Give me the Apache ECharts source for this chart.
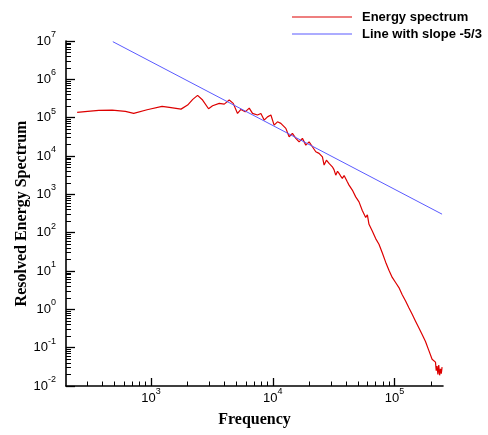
<!DOCTYPE html>
<html>
<head>
<meta charset="utf-8">
<script src="https://cdn.jsdelivr.net/npm/echarts@6/dist/echarts.min.js"></script>
<style>
html,body{margin:0;padding:0;background:#fff;}
#chart{width:488px;height:435px;}
</style>
</head>
<body>
<div id="chart"></div>
<script>
// ---- data ----
const spectrumFreq = [
  247, 301, 372, 479, 615, 720, 927, 1231, 1413, 1762, 1995, 2200, 2410, 2650, 2965, 3200,
  3630, 3990, 4385, 4730, 5130, 5470, 5930, 6400, 6810, 7030, 7480, 7980, 8490, 9040, 9640,
  10250, 10920, 11640, 12000, 12790, 13610, 14490, 15450, 16440, 17500, 18660, 19860, 21140,
  22540, 23990, 25550, 26380, 27560, 28970, 30840, 31800, 32880, 34000, 34990, 36100, 37250,
  38500, 39720, 41000, 42270, 43600, 45000, 46500, 47970, 49500, 51050, 52700, 54330, 56100,
  57940, 59800, 61660, 63600, 65620, 67800, 69970, 72200, 74470, 76800, 79250, 81800, 84520,
  87200, 89940, 92800, 95710, 98800, 101960, 105200, 108600, 112000, 115600, 119300, 123200,
  127100, 131100, 135300, 139600, 144000, 148700, 153400, 158200, 163300, 168500, 174000,
  179500, 185200, 191100, 197000, 203400, 210000, 216800, 220000, 223500, 227000, 230700,
  234500, 238400, 242000, 245600
];
const spectrumEnergy = [
  1.37e5, 1.46e5, 1.55e5, 1.58e5, 1.46e5, 1.29e5, 1.61e5, 1.97e5, 1.85e5, 1.67e5, 2.13e5, 3.0e5,
  3.82e5, 2.88e5, 1.71e5, 2.04e5, 2.36e5, 2.26e5, 2.88e5, 2.36e5, 1.29e5, 1.64e5, 1.42e5,
  1.78e5, 1.29e5, 1.35e5, 1.17e5, 1.29e5, 8.65e4, 1.05e5, 1.17e5, 6.4e4, 7.8e4, 7.1e4, 7.8e4,
  5.25e4, 3.17e4, 3.89e4, 2.88e4, 2.34e4, 2.88e4, 1.92e4, 2.34e4, 1.74e4, 1.29e4, 1.17e4,
  9.5e3, 5.8e3, 7.8e3, 6.4e3, 5.22e3, 4.4e3, 3.17e3, 4.0e3, 3.51e3, 3.0e3, 2.6e3, 3.1e3,
  2.99e3, 2.1e3, 1.74e3, 1.9e3, 1.29e3, 1.2e3, 859, 900, 637, 600, 380, 420, 250, 290, 165,
  180, 110, 112, 70, 78, 50, 48, 30, 28, 17, 16, 10.5, 10.5, 6.8, 7.4, 5.0, 5.2, 3.7,
  3.6, 2.4, 2.5, 1.65, 1.7, 1.1, 1.1, 0.74, 0.74, 0.49, 0.5, 0.33, 0.33, 0.22, 0.22,
  0.145, 0.13, 0.085, 0.08, 0.05, 0.05, 0.042, 0.025, 0.033, 0.02, 0.035, 0.019, 0.028,
  0.021, 0.031
];
const slopeFreq = [485, 245600];
const slopeEnergy = [9.6e6, 304];

const seriesNames = ['Energy spectrum', 'Line with slope -5/3'];
const xMajorTicks = [1e3, 1e4, 1e5];
const xMinorTicks = [300, 400, 500, 600, 700, 800, 900, 2000, 3000, 4000, 5000, 6000, 7000, 8000, 9000,
  20000, 30000, 40000, 50000, 60000, 70000, 80000, 90000, 200000];
const yMajorTicks = [1e-2, 1e-1, 1e0, 1e1, 1e2, 1e3, 1e4, 1e5, 1e6, 1e7];
const yMinorTicks = [];
for (let e = -2; e < 7; e++) { for (let m = 2; m <= 9; m++) { yMinorTicks.push(+(m * Math.pow(10, e)).toPrecision(3)); } }
const xRange = [200, 2.5e5];
const yRange = [1e-2, 1e7];
const xTitle = 'Frequency';
const yTitle = 'Resolved Energy Spectrum';

// ---- chart ----
const zip = (a, b) => a.map((v, i) => [v, b[i]]);
const powLabel = v => '{b|10}{s|' + Math.round(Math.log10(v)) + '}';
const labelRich = {
  b: { fontSize: 13, fontFamily: 'Liberation Sans', color: '#000' },
  s: { fontSize: 9, fontFamily: 'Liberation Sans', color: '#000', padding: [0, 0, 13, 0] }
};
const axisLine = { show: true, lineStyle: { color: '#000', width: 1.6 } };
const titleStyle = { fontFamily: 'Liberation Serif', fontWeight: 'bold', fontSize: 16, color: '#000' };
const redColor = '#dd0000';
const blueColor = '#5a5aff';

const chart = echarts.init(document.getElementById('chart'), null, { renderer: 'canvas' });
chart.setOption({
  animation: false,
  backgroundColor: '#fff',
  grid: { left: 66, right: 45, top: 41, bottom: 49, containLabel: false, outerBoundsMode: 'none' },
  legend: {
    data: [
      { name: seriesNames[0], icon: 'rect', itemStyle: { color: redColor } },
      { name: seriesNames[1], icon: 'rect', itemStyle: { color: blueColor } }
    ],
    orient: 'vertical',
    left: 292, top: 10, padding: 0,
    itemWidth: 60, itemHeight: 1, itemGap: 3,
    textStyle: { fontFamily: 'Liberation Sans', fontWeight: 'bold', fontSize: 13, color: '#000', padding: [0, 0, 0, 5], lineHeight: 14 }
  },
  xAxis: [{
    type: 'log', min: xRange[0], max: xRange[1],
    name: xTitle, nameLocation: 'middle', nameGap: 26, nameTextStyle: titleStyle,
    axisLine: axisLine,
    axisTick: { inside: true, length: 8, customValues: xMajorTicks, lineStyle: { color: '#000', width: 1.3 } },
    axisLabel: { customValues: xMajorTicks, formatter: powLabel, rich: labelRich, margin: 1 },
    splitLine: { show: false }, minorTick: { show: false }
  }, {
    type: 'log', min: xRange[0], max: xRange[1], position: 'bottom',
    axisLine: { show: false },
    axisTick: { inside: true, length: 4.5, customValues: xMinorTicks, lineStyle: { color: '#000', width: 1 } },
    axisLabel: { show: false }, splitLine: { show: false }
  }],
  yAxis: [{
    type: 'log', min: yRange[0], max: yRange[1],
    name: yTitle, nameLocation: 'middle', nameGap: 36, nameTextStyle: titleStyle, nameRotate: 90, nameMoveOverlap: false,
    axisLine: axisLine,
    axisTick: { inside: true, length: 9, customValues: yMajorTicks, lineStyle: { color: '#000', width: 1.3 } },
    axisLabel: { customValues: yMajorTicks, formatter: powLabel, rich: labelRich, margin: 10 },
    splitLine: { show: false }, minorTick: { show: false }
  }, {
    type: 'log', min: yRange[0], max: yRange[1], position: 'left',
    axisLine: { show: false },
    axisTick: { inside: true, length: 5, customValues: yMinorTicks, lineStyle: { color: '#000', width: 1 } },
    axisLabel: { show: false }, splitLine: { show: false }
  }],
  series: [{
    name: seriesNames[0], type: 'line', symbol: 'none', xAxisIndex: 0, yAxisIndex: 0,
    data: zip(spectrumFreq, spectrumEnergy),
    lineStyle: { color: redColor, width: 1.2 }, itemStyle: { color: redColor }
  }, {
    name: seriesNames[1], type: 'line', symbol: 'none', xAxisIndex: 0, yAxisIndex: 0,
    data: zip(slopeFreq, slopeEnergy),
    lineStyle: { color: blueColor, width: 1 }, itemStyle: { color: blueColor }
  }]
});
</script>
</body>
</html>
